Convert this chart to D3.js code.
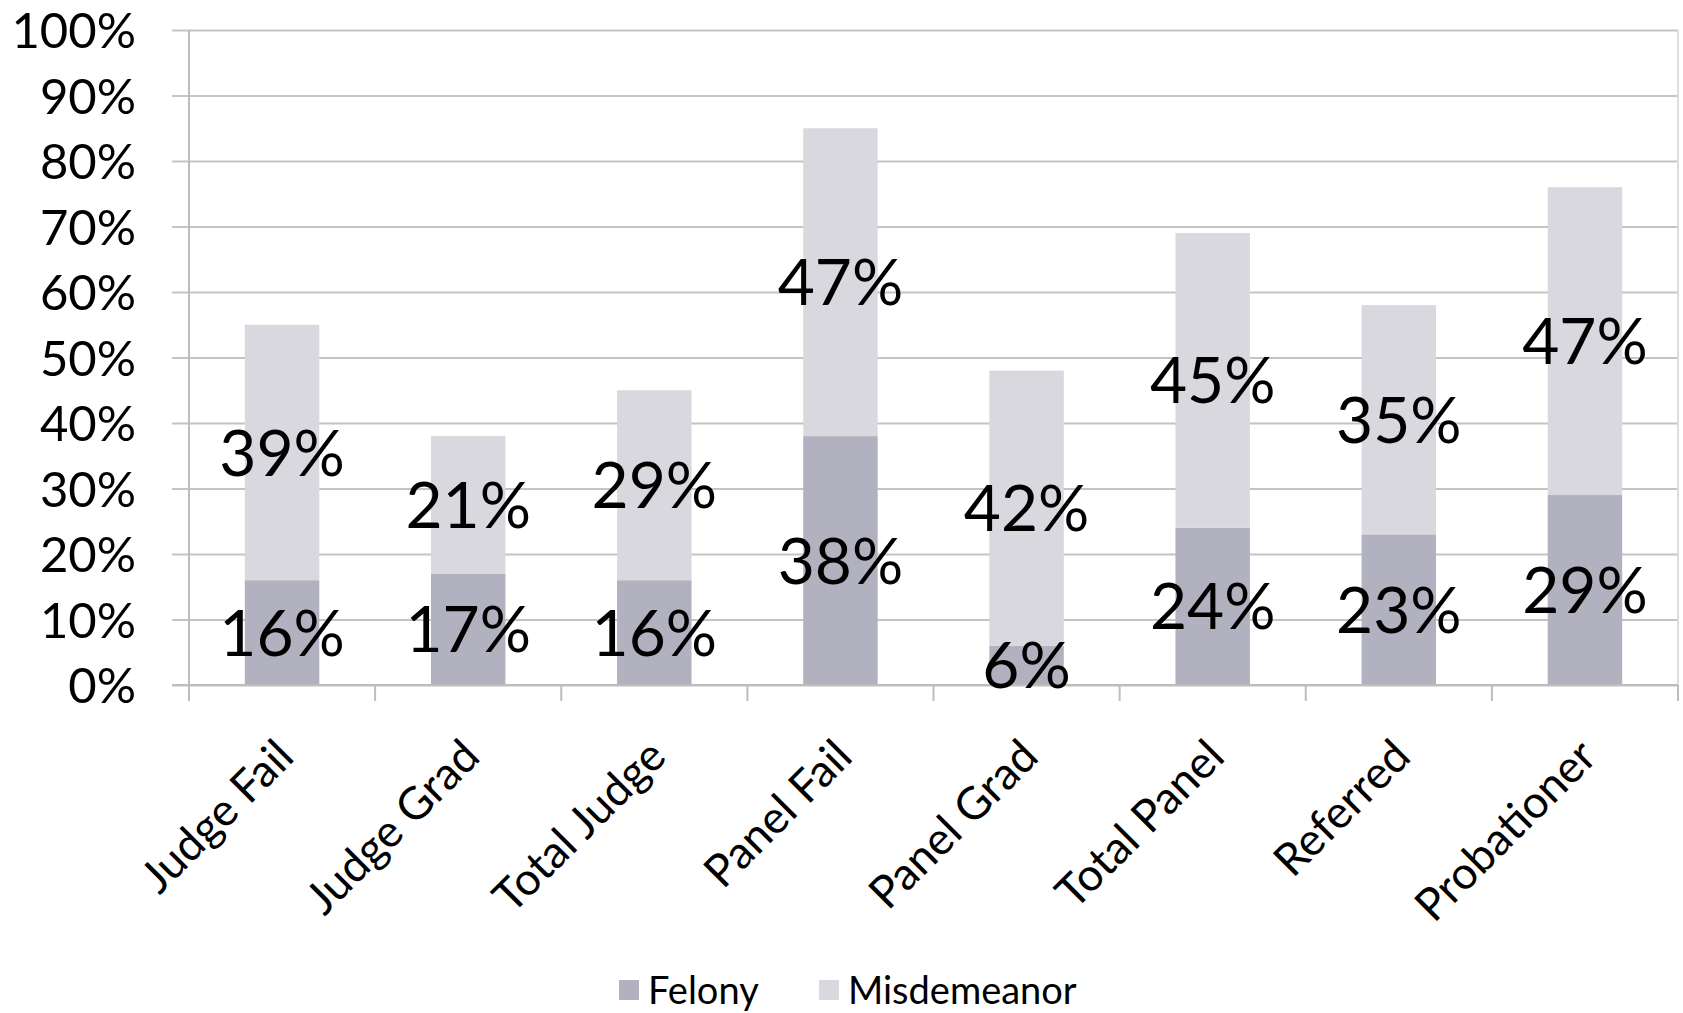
<!DOCTYPE html>
<html>
<head>
<meta charset="utf-8">
<script src="https://cdn.jsdelivr.net/npm/d3@7"></script>
<style>
  body { margin: 0; background: #fff; }
  text { font-family: Lato, "Open Sans", sans-serif; fill: #000; }
</style>
</head>
<body>
<div id="chart"></div>
<script>
// data
let categories = ["Judge Fail", "Judge Grad", "Total Judge", "Panel Fail", "Panel Grad", "Total Panel", "Referred", "Probationer"];
let felony = [16, 17, 16, 38, 6, 24, 23, 29];
let misdemeanor = [39, 21, 29, 47, 42, 45, 35, 47];
let seriesNames = ["Felony", "Misdemeanor"];
let yTicks = [0, 10, 20, 30, 40, 50, 60, 70, 80, 90, 100];

let svgWidth = 1683;
let svgHeight = 1013;

let margin = { top: 30, right: 5, bottom: 328, left: 189 };
let width = svgWidth - margin.left - margin.right;
let height = svgHeight - margin.top - margin.bottom;

let colors = { Felony: "#b1b1bf", Misdemeanor: "#d9d8df" };

let svg = d3.select("#chart")
  .append("svg")
  .attr("width", svgWidth)
  .attr("height", svgHeight);

let chartGroup = svg.append("g")
  .attr("transform", `translate(${margin.left}, ${margin.top})`);

// build rows for the stack
let rows = categories.map((c, i) => ({ cat: c, Felony: felony[i], Misdemeanor: misdemeanor[i] }));
let stacked = d3.stack().keys(seriesNames)(rows);

let xScale = d3.scaleBand()
  .domain(categories)
  .range([0, width])
  .paddingInner(0.6)
  .paddingOuter(0.3);

let yScale = d3.scaleLinear()
  .domain([0, 100])
  .range([height, 0]);

// gridlines + left ticks
let leftAxis = d3.axisLeft(yScale)
  .tickValues(yTicks)
  .tickSize(-width)
  .tickPadding(0)
  .tickFormat(d => d + "%");

let yAxis = chartGroup.append("g").call(leftAxis);
yAxis.select(".domain").remove();
yAxis.selectAll(".tick line")
  .attr("x1", -17)
  .attr("stroke", "#c4c4c4")
  .attr("stroke-width", 2);
yAxis.selectAll(".tick text")
  .attr("x", -53)
  .attr("dy", "0.36em")
  .style("font-size", "49px")
  .style("font-family", "Lato, sans-serif")
  .attr("fill", "#000");

// vertical axis line and right border
chartGroup.append("line")
  .attr("x1", 0).attr("x2", 0)
  .attr("y1", 0).attr("y2", height + 16)
  .attr("stroke", "#bdbdbd")
  .attr("stroke-width", 2);

chartGroup.append("line")
  .attr("x1", width).attr("x2", width)
  .attr("y1", 0).attr("y2", height)
  .attr("stroke", "#dedede")
  .attr("stroke-width", 2);

// bars
let layer = chartGroup.selectAll(".layer")
  .data(stacked)
  .join("g")
  .attr("class", "layer")
  .attr("fill", d => colors[d.key]);

layer.selectAll("rect")
  .data(d => d)
  .join("rect")
  .attr("x", d => xScale(d.data.cat))
  .attr("y", d => yScale(d[1]))
  .attr("width", xScale.bandwidth())
  .attr("height", d => yScale(d[0]) - yScale(d[1]));

// bottom axis line + category ticks
let bottomAxis = chartGroup.append("g")
  .attr("transform", `translate(0, ${height})`);

bottomAxis.append("line")
  .attr("x1", -17).attr("x2", width)
  .attr("stroke", "#bdbdbd")
  .attr("stroke-width", 2);

bottomAxis.selectAll(".cat-tick")
  .data(d3.range(categories.length + 1))
  .join("line")
  .attr("class", "cat-tick")
  .attr("x1", i => i * width / categories.length)
  .attr("x2", i => i * width / categories.length)
  .attr("y1", 0)
  .attr("y2", 16)
  .attr("stroke", "#bdbdbd")
  .attr("stroke-width", 2);

// rotated category labels
bottomAxis.selectAll(".cat-label")
  .data(categories)
  .join("text")
  .attr("class", "cat-label")
  .attr("text-anchor", "end")
  .attr("transform", d => `translate(${xScale(d) + xScale.bandwidth() / 2 + 14}, 74) rotate(-45)`)
  .style("font-size", "45px")
  .text(d => d);

// data labels in the middle of each segment (drawn on top of all bars)
let labelData = stacked.flatMap(s => s.map(p => ({ p: p, key: s.key })));

chartGroup.append("g")
  .selectAll("text")
  .data(labelData)
  .join("text")
  .attr("text-anchor", "middle")
  .attr("x", d => xScale(d.p.data.cat) + xScale.bandwidth() / 2)
  .attr("y", d => yScale((d.p[0] + d.p[1]) / 2))
  .attr("dy", "0.36em")
  .style("font-size", "64px")
  .attr("fill", "#000")
  .text(d => d.p.data[d.key] + "%");

// legend
let legend = svg.append("g")
  .attr("transform", `translate(619, 980)`);

let legendX = [0, 200];
let items = legend.selectAll(".item")
  .data(seriesNames)
  .join("g")
  .attr("class", "item")
  .attr("transform", (d, i) => `translate(${legendX[i]}, 0)`);

items.append("rect")
  .attr("width", 20)
  .attr("height", 20)
  .attr("fill", d => colors[d]);

items.append("text")
  .attr("x", 29)
  .attr("y", 10)
  .attr("dy", "0.36em")
  .style("font-size", "38px")
  .text(d => d);
</script>
</body>
</html>
